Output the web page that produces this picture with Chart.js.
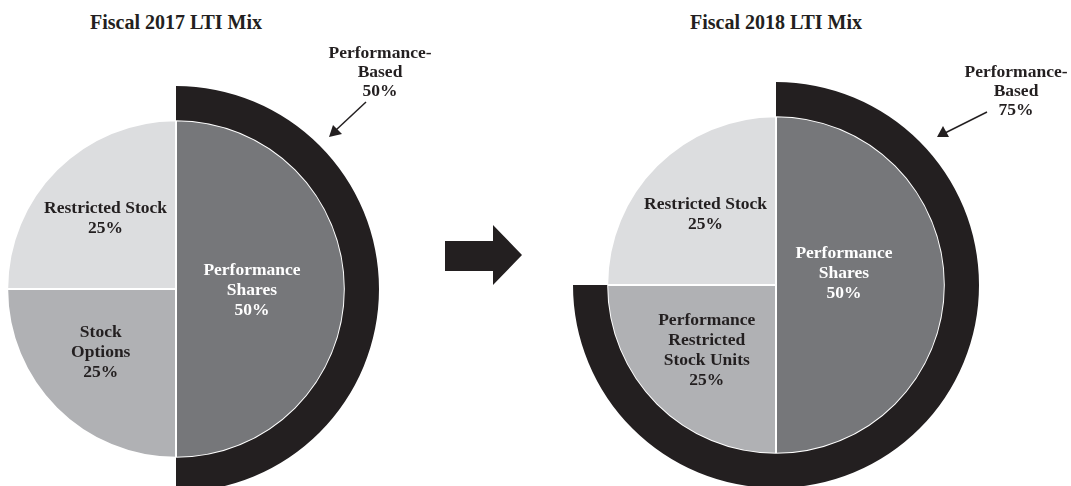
<!DOCTYPE html>
<html><head><meta charset="utf-8">
<script src="https://cdn.jsdelivr.net/npm/chart.js@4.4.1/dist/chart.umd.min.js"></script>
<style>
html,body{margin:0;padding:0;background:#fff;width:1071px;height:486px;overflow:hidden;position:relative;font-family:"Liberation Serif","Times New Roman",serif;}
.cv{position:absolute;width:406px;height:406px;}
.t{position:absolute;font-weight:bold;color:#231f20;text-align:center;white-space:nowrap;transform:translate(-50%,-50%);line-height:19px;}
svg{position:absolute;left:0;top:0;}
</style></head><body>
<div class="cv" id="w1" style="left:-27px;top:86px"><canvas id="c1" width="406" height="406"></canvas></div>
<div class="cv" id="w2" style="left:573px;top:82px"><canvas id="c2" width="406" height="406"></canvas></div>
<div class="t" id="title1" style="left:176px;top:22px;font-size:20px"></div>
<div class="t" id="title2" style="left:776px;top:22px;font-size:20px"></div>
<div class="t" id="ann1" style="left:380px;top:71px;font-size:17.5px"></div>
<div class="t" id="ann2" style="left:1016px;top:90px;font-size:17.5px"></div>
<svg width="1071" height="486">
  <polygon points="445,241 493,241 493,225 522,255 493,285 493,271 445,271" fill="#231f20"/>
  <line x1="366" y1="102" x2="336" y2="130" stroke="#231f20" stroke-width="1.5"/>
  <polygon points="329,137 333,125 342,134" fill="#231f20"/>
  <line x1="987" y1="112" x2="945" y2="133" stroke="#231f20" stroke-width="1.5"/>
  <polygon points="937,137 943,126 949,137" fill="#231f20"/>
</svg>
<script>
// ---- data ----
const titles = ["Fiscal 2017 LTI Mix", "Fiscal 2018 LTI Mix"];
const labels2017 = [["Performance","Shares"], ["Stock","Options"], ["Restricted Stock"]];
const values2017 = [50, 25, 25];
const labels2018 = [["Performance","Shares"], ["Performance","Restricted","Stock Units"], ["Restricted Stock"]];
const values2018 = [50, 25, 25];
const perfBasedLabel = ["Performance-", "Based"];
const perfBased2017 = 50;
const perfBased2018 = 75;

document.getElementById('title1').textContent = titles[0];
document.getElementById('title2').textContent = titles[1];
document.getElementById('ann1').innerHTML = perfBasedLabel.join('<br>') + '<br>' + perfBased2017 + '%';
document.getElementById('ann2').innerHTML = perfBasedLabel.join('<br>') + '<br>' + perfBased2018 + '%';

const sliceColors = ['#76777a', '#b0b1b4', '#dcdddf'];
const textColors = ['#ffffff', '#231f20', '#231f20'];

const labelPlugin = {
  id: 'sliceLabels',
  afterDatasetsDraw(chart, args, opts) {
    const ctx = chart.ctx;
    const meta = chart.getDatasetMeta(1);
    const ds = chart.data.datasets[1];
    ctx.save();
    ctx.font = 'bold 17.5px "Liberation Serif", serif';
    ctx.textAlign = 'center';
    ctx.textBaseline = 'middle';
    meta.data.forEach((arc, i) => {
      const p = arc.getProps(['x','y','startAngle','endAngle','outerRadius'], true);
      const mid = (p.startAngle + p.endAngle) / 2;
      const f = opts.factors[i];
      const nd = opts.nudge[i];
      const cx = p.x + Math.cos(mid) * p.outerRadius * f + nd[0];
      const cy = p.y + Math.sin(mid) * p.outerRadius * f + nd[1];
      const lines = ds.labelLines[i].concat([ds.data[i] + '%']);
      const lh = 20;
      ctx.fillStyle = textColors[i];
      lines.forEach((ln, k) => {
        ctx.fillText(ln, cx, cy + (k - (lines.length - 1) / 2) * lh);
      });
    });
    ctx.restore();
  }
};

function makeChart(id, values, lbls, perf, nudge) {
  new Chart(document.getElementById(id), {
    type: 'doughnut',
    data: {
      labels: ['a','b','c'],
      datasets: [
        { data: [perf, 100 - perf], backgroundColor: ['#231f20', 'rgba(0,0,0,0)'], borderWidth: 0, weight: 34, hoverOffset: 0 },
        { data: values, labelLines: lbls, backgroundColor: sliceColors, borderColor: '#ffffff', borderWidth: 2, weight: 168, hoverOffset: 0 }
      ]
    },
    options: {
      responsive: false,
      animation: false,
      events: [],
      cutout: 0,
      layout: { padding: 0 },
      plugins: {
        legend: { display: false },
        tooltip: { enabled: false },
        sliceLabels: { factors: [0.45, 0.58, 0.59], nudge: nudge }
      }
    },
    plugins: [labelPlugin]
  });
}
makeChart('c1', values2017, labels2017, perfBased2017, [[0,1],[-6,-6],[0,0]]);
makeChart('c2', values2018, labels2018, perfBased2018, [[-8,-12],[0,-4],[0,0]]);
</script>
</body></html>
